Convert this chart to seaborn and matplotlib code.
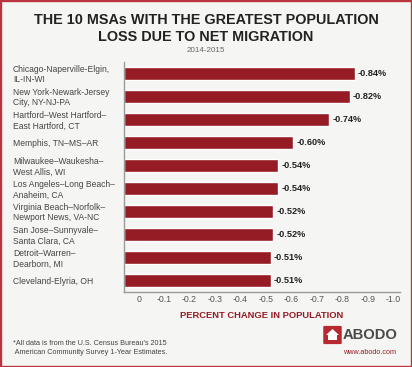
import pandas as pd
import seaborn as sns
import matplotlib.pyplot as plt
from matplotlib.patches import FancyBboxPatch, Polygon, Rectangle
from matplotlib.transforms import ScaledTranslation

metros = ["Chicago-Naperville-Elgin,\nIL-IN-WI", "New York-Newark-Jersey\nCity, NY-NJ-PA",
          "Hartford–West Hartford–\nEast Hartford, CT", "Memphis, TN–MS–AR",
          "Milwaukee–Waukesha–\nWest Allis, WI", "Los Angeles–Long Beach–\nAnaheim, CA",
          "Virginia Beach–Norfolk–\nNewport News, VA-NC", "San Jose–Sunnyvale–\nSanta Clara, CA",
          "Detroit–Warren–\nDearborn, MI", "Cleveland-Elyria, OH"]
change = [-0.84, -0.82, -0.74, -0.60, -0.54, -0.54, -0.52, -0.52, -0.51, -0.51]
ticks = [0, -0.1, -0.2, -0.3, -0.4, -0.5, -0.6, -0.7, -0.8, -0.9, -1.0]
tick_labels = ["0", "-0.1", "-0.2", "-0.3", "-0.4", "-0.5", "-0.6", "-0.7", "-0.8", "-0.9", "-1.0"]

RED = "#951c25"
BG = "#f5f5f3"
W, H = 412, 367

sns.set_style("white")
plt.rcParams['font.family'] = ['Liberation Sans', 'DejaVu Sans']

df = pd.DataFrame({"metro": metros, "change": change})

fig = plt.figure(figsize=(W / 100, H / 100), dpi=100, facecolor=BG)
ax = fig.add_axes([124 / W, 1 - 292 / H, 276 / W, 230 / H], facecolor=BG)
sns.barplot(data=df, x="change", y="metro", color=RED, saturation=1, width=0.6, ax=ax)

# bars in the original start at the axis line, not at the 0 tick
x_left = 0.065
for bar in ax.containers[0]:
    bar.set_x(x_left)
    bar.set_width(bar.get_width() - x_left)

ax.set_xlim(x_left, -1.018)
ax.set_xticks(ticks, tick_labels)
ax.set_xlabel("PERCENT CHANGE IN POPULATION", color=RED, fontsize=6.75, fontweight="bold", labelpad=4.5)
ax.set_ylabel("")
ax.tick_params(axis="x", length=0, pad=2.5, labelsize=6.3, labelcolor="#555555")
ax.tick_params(axis="y", length=0, pad=80, labelsize=6.15, labelcolor="#444444")
for label in ax.get_yticklabels():
    label.set_horizontalalignment("left")
    label.set_linespacing(1.12)
# tick labels sit a little left of the bar scale
shift = ScaledTranslation(-2 / 100, 0, fig.dpi_scale_trans)
for label in ax.get_xticklabels():
    label.set_transform(label.get_transform() + shift)
sns.despine(ax=ax)
for side in ["left", "bottom"]:
    ax.spines[side].set_color("#9a9a9a")
    ax.spines[side].set_linewidth(1)

ax.bar_label(ax.containers[0], labels=[f"{v:.2f}%" for v in change], padding=2.5,
             fontsize=6.6, fontweight="bold", color="#222222")

fig.text(206 / W, 1 - 19.5 / H, "THE 10 MSAs WITH THE GREATEST POPULATION", ha="center", va="center",
         fontsize=10.4, fontweight="bold", color="#222222")
fig.text(206 / W, 1 - 37 / H, "LOSS DUE TO NET MIGRATION", ha="center", va="center",
         fontsize=10.4, fontweight="bold", color="#222222")
fig.text(206 / W, 1 - 50.5 / H, "2014-2015", ha="center", va="center", fontsize=5.8, color="#666666")

fig.text(13 / W, 1 - 348 / H, "*All data is from the U.S. Census Bureau's 2015\n American Community Survey 1-Year Estimates.",
         ha="left", va="center", fontsize=5.2, color="#444444", linespacing=1.25)

# logo and frame
fig.add_artist(Rectangle((0, 0), 1, 1, transform=fig.transFigure, fill=False, edgecolor="#b9343c", linewidth=2.4))
fig.add_artist(FancyBboxPatch((324.5 / W, 1 - 343 / H), 16 / W, 16 / H, transform=fig.transFigure,
                              boxstyle="round,pad=0.003", facecolor="#b5292f", edgecolor="none"))
fig.add_artist(Polygon([(326 / W, 1 - 335 / H), (332.5 / W, 1 - 329 / H), (339 / W, 1 - 335 / H),
                        (337 / W, 1 - 335 / H), (337 / W, 1 - 340 / H), (328 / W, 1 - 340 / H),
                        (328 / W, 1 - 335 / H)], closed=True, transform=fig.transFigure,
                       facecolor="white", edgecolor="none"))
fig.text(343 / W, 1 - 335 / H, "ABODO", ha="left", va="center", fontsize=10.6, fontweight="bold", color="#4a4a4a")
fig.text(396 / W, 1 - 352.5 / H, "www.abodo.com", ha="right", va="center", fontsize=5.2, color=RED)

fig.savefig("out.png", dpi=100, facecolor=BG)
